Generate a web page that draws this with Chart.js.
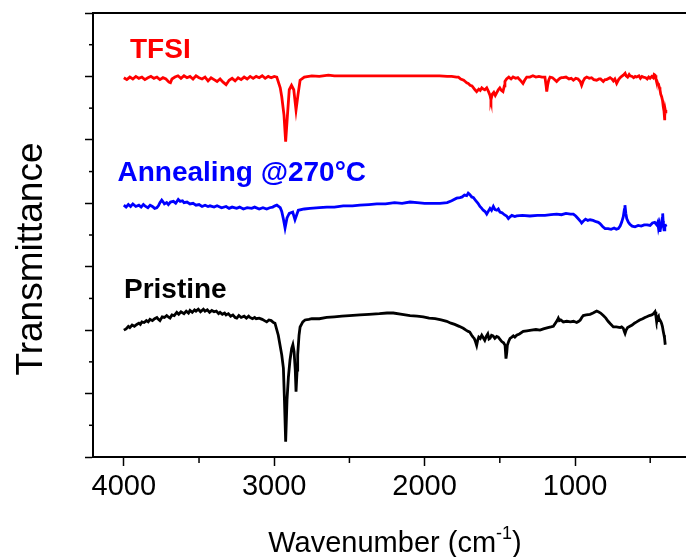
<!DOCTYPE html>
<html>
<head>
<meta charset="utf-8">
<script src="https://cdn.jsdelivr.net/npm/chart.js@4/dist/chart.umd.min.js"></script>
<style>
  html, body { margin: 0; padding: 0; background: #fff; overflow: hidden; }
  #wrap { width: 686px; height: 557px; }
</style>
</head>
<body>
<div id="wrap"><canvas id="ftirChart" width="686" height="557"></canvas></div>
<script>
// wavenumber (cm-1) and offset transmittance
var tfsiWn = [4000, 3980, 3960, 3940, 3920, 3900, 3880, 3860, 3840, 3820, 3800, 3780, 3760, 3740, 3720, 3700, 3690, 3680, 3660, 3640, 3620, 3600, 3580, 3560, 3540, 3520, 3500, 3480, 3460, 3440, 3420, 3400, 3380, 3360, 3340, 3320, 3300, 3280, 3260, 3240, 3220, 3200, 3180, 3160, 3140, 3120, 3100, 3080, 3060, 3040, 3020, 3000, 2983,
  2960, 2950, 2935, 2924, 2912, 2900, 2885, 2870, 2855, 2842, 2828, 2800, 2750, 2700, 2640, 2600, 2500, 2400, 2300, 2200, 2100, 2000, 1900, 1850, 1820, 1788,
  1775, 1760, 1740, 1730, 1720, 1710, 1698, 1685, 1675, 1665, 1654, 1640, 1630, 1620, 1610, 1600, 1587, 1575, 1565, 1559, 1550, 1540, 1530, 1521, 1510, 1500, 1490, 1479, 1470, 1466, 1455, 1440, 1425, 1412, 1395, 1380, 1360, 1346, 1335, 1321, 1300, 1280, 1260, 1240, 1220, 1200, 1192, 1188, 1182, 1175, 1166, 1150, 1140, 1122, 1110, 1100, 1090, 1080, 1060, 1040, 1025, 1011, 995, 980, 965, 956, 945, 935, 922, 905, 890, 875, 856, 840, 830, 812, 800, 790, 767, 755, 745, 735, 723, 710, 700, 690, 679, 667, 660, 650, 640, 634, 620, 610, 600, 590, 575, 565, 555, 546, 530, 520, 510, 501, 490, 480, 474, 468, 462, 457, 450, 445, 440, 435, 430, 424, 418, 413, 408, 405, 402, 400, 397, 395];
var tfsiT = [59.8, 59.5, 59.9, 59.6, 60.0, 59.7, 59.9, 59.5, 59.8, 60.0, 59.7, 59.9, 59.5, 59.8, 59.6, 59.1, 59.0, 59.6, 59.9, 60.1, 59.7, 60.1, 59.8, 60.0, 59.6, 60.1, 59.8, 59.6, 59.9, 59.3, 59.8, 59.5, 59.2, 59.6, 59.1, 58.7, 59.4, 59.7, 59.3, 59.8, 59.5, 59.9, 59.6, 60.0, 59.7, 60.0, 59.8, 60.1, 59.7, 60.0, 59.8, 60.0, 59.9,
  58.2, 56.8, 53.9, 49.7, 53.9, 57.9, 58.6, 57.9, 54.7, 57.1, 59.4, 59.9, 60.1, 60.0, 60.2, 60.1, 60.1, 60.1, 60.1, 60.1, 60.1, 60.1, 60.1, 60.0, 60.0, 59.9,
  59.9, 59.6, 59.4, 59.2, 59.0, 58.9, 58.6, 58.5, 58.2, 57.9, 57.6, 58.0, 57.8, 58.2, 58.0, 57.9, 58.2, 57.6, 57.0, 56.3, 57.2, 57.5, 57.0, 57.4, 57.9, 58.2, 57.8, 57.6, 58.5, 59.2, 59.6, 59.9, 59.6, 59.9, 59.7, 59.8, 59.3, 58.9, 59.4, 59.9, 59.9, 60.1, 59.9, 60.0, 59.9, 59.9, 58.5, 57.6, 58.6, 59.4, 59.9, 59.8, 59.6, 59.2, 59.5, 59.7, 59.8, 59.8, 59.9, 59.6, 59.7, 59.4, 59.7, 59.6, 59.2, 58.6, 59.3, 59.7, 59.9, 59.7, 59.8, 59.5, 59.4, 59.6, 59.6, 59.2, 59.5, 59.5, 59.8, 59.6, 59.3, 59.6, 58.9, 59.5, 59.8, 60.0, 60.2, 60.5, 60.1, 59.9, 60.3, 60.1, 60.0, 59.8, 60.0, 59.9, 60.1, 59.7, 60.0, 59.9, 59.8, 59.6, 59.9, 59.7, 60.0, 59.8, 60.3, 60.2, 59.6, 59.4, 58.9, 58.8, 58.3, 57.9, 57.2, 56.8, 56.2, 55.2, 54.5, 53.1, 53.8, 54.7, 54.2, 54.4];

var annealWn = [4000, 3985, 3970, 3955, 3940, 3920, 3900, 3885, 3870, 3855, 3840, 3825, 3810, 3795, 3781, 3770, 3760, 3748, 3738, 3730, 3715, 3704, 3690, 3670, 3655, 3638, 3625, 3610, 3600, 3580, 3560, 3540, 3520, 3500, 3480, 3460, 3440, 3427, 3400, 3380, 3350, 3320, 3300, 3280, 3250, 3230, 3205, 3180, 3150, 3130, 3100, 3075, 3050, 3030, 3010, 2995, 2983,
  2960, 2950, 2938, 2928, 2915, 2900, 2877, 2862, 2840, 2800, 2762, 2700, 2650, 2600, 2541, 2480, 2430, 2370, 2318, 2260, 2200, 2150, 2097, 2050, 2000, 1950, 1898, 1850, 1820, 1787, 1765, 1750, 1735, 1720, 1710, 1700, 1687, 1675, 1660, 1645, 1632, 1620, 1610, 1598, 1587, 1575, 1565, 1555, 1543, 1532, 1520, 1510, 1499, 1485, 1470, 1455, 1443, 1430, 1420, 1400, 1388,
  1350, 1300, 1250, 1200, 1160, 1122, 1090, 1060, 1030, 1011, 995, 980, 965, 956, 940, 930, 915, 900, 880, 860, 845, 834, 815, 800, 780, 760, 740, 725, 712, 700, 690, 679, 672, 668, 662, 656, 645, 635, 620, 601, 580, 560, 540, 520, 501, 485, 470, 457, 450, 445, 440, 435, 430, 425, 420, 417, 414, 412, 408, 403, 398, 390];
var annealT = [39.7, 39.4, 39.8, 39.5, 39.9, 39.5, 39.7, 39.4, 39.8, 39.5, 39.3, 39.7, 39.5, 39.2, 39.3, 39.6, 40.1, 40.5, 40.2, 39.9, 40.1, 39.8, 40.2, 40.3, 40.0, 40.6, 40.3, 40.4, 40.1, 40.2, 39.9, 40.0, 39.7, 39.8, 39.5, 39.7, 39.5, 39.6, 39.4, 39.6, 39.3, 39.5, 39.2, 39.4, 39.2, 39.4, 39.1, 39.3, 39.2, 39.4, 39.1, 39.3, 39.1, 39.3, 39.4, 39.6, 39.7,
  39.3, 38.7, 37.4, 36.1, 37.7, 38.4, 38.6, 37.4, 38.9, 39.1, 39.2, 39.3, 39.4, 39.4, 39.6, 39.6, 39.7, 39.8, 39.9, 39.9, 40.1, 40.0, 40.2, 40.1, 40.0, 40.0, 40.0, 40.1, 40.4, 40.8, 40.9, 41.0, 41.3, 41.2, 41.6, 41.4, 41.0, 40.9, 40.4, 40.0, 39.5, 39.2, 38.9, 38.7, 38.3, 38.8, 39.2, 38.9, 39.5, 39.0, 38.9, 39.1, 38.6, 38.5, 38.2, 38.0, 37.6, 37.9, 38.1, 37.9, 38.0,
  38.1, 38.0, 38.1, 38.1, 38.2, 38.3, 38.2, 38.4, 38.3, 38.3, 38.0, 37.6, 37.2, 36.9, 37.3, 37.5, 37.3, 37.4, 37.3, 37.1, 37.0, 36.8, 36.3, 36.0, 36.0, 35.9, 36.1, 35.9, 36.0, 36.4, 37.0, 37.9, 39.0, 39.7, 38.4, 37.6, 37.0, 36.7, 36.4, 36.3, 36.5, 36.4, 36.6, 36.6, 36.5, 36.9, 37.0, 36.6, 37.0, 36.1, 36.6, 35.5, 36.2, 36.7, 37.6, 38.4, 37.2, 36.4, 35.8, 36.3, 36.5, 36.6];

var pristineWn = [4000, 3985, 3970, 3960, 3945, 3930, 3914, 3900, 3890, 3880, 3865, 3850, 3838, 3826, 3810, 3795, 3780, 3770, 3760, 3745, 3730, 3715, 3700, 3693, 3680, 3665, 3648, 3635, 3620, 3600, 3585, 3570, 3560, 3545, 3530, 3520, 3505, 3490, 3471, 3460, 3445, 3430, 3415, 3400, 3385, 3370, 3360, 3345, 3330, 3320, 3305, 3290, 3275, 3260, 3249, 3235, 3220, 3200, 3185, 3170, 3161, 3145, 3130, 3120, 3100, 3080, 3065, 3050, 3035, 3020, 3005, 2995,
  2973, 2950, 2939, 2932, 2924, 2915, 2906, 2895, 2884, 2876, 2868, 2860, 2855, 2848, 2844, 2835, 2828, 2810, 2795, 2770, 2750, 2700, 2651, 2600, 2550, 2500, 2430, 2370, 2300, 2250, 2208, 2150, 2097, 2050, 2009, 1970, 1930, 1890, 1853, 1825, 1800, 1770, 1743, 1725, 1710, 1700,
  1687, 1678, 1670, 1662, 1654, 1647, 1640, 1630, 1620, 1610, 1600, 1590, 1580, 1572, 1565, 1555, 1545, 1533, 1521, 1510, 1500, 1487, 1475, 1465, 1459, 1454, 1450, 1440, 1432, 1420, 1410, 1400, 1388, 1370, 1344, 1320, 1290, 1260, 1233, 1210, 1180, 1160, 1144, 1133, 1125, 1117, 1111, 1104, 1095, 1078, 1055, 1030, 1010, 989, 975, 965, 955, 945, 925, 900, 880, 865, 856, 845, 830, 812,
  795, 780, 765, 745, 725, 700, 690, 679, 672, 667, 660, 650, 635, 620, 605, 590, 570, 550, 535, 523, 505, 490, 478, 468, 462, 457, 451, 445, 440, 435, 430, 425, 419, 413, 408, 405, 400];
var pristineT = [20.0, 20.2, 20.6, 20.4, 20.8, 20.6, 20.9, 21.1, 20.9, 21.3, 21.2, 21.5, 21.3, 21.7, 21.5, 21.8, 22.0, 21.7, 21.5, 22.1, 22.0, 22.3, 22.0, 21.9, 22.4, 22.3, 22.8, 22.5, 22.9, 22.6, 23.0, 22.7, 23.1, 22.8, 23.2, 23.0, 23.3, 22.9, 23.3, 23.0, 23.2, 22.8, 23.1, 22.9, 23.0, 22.6, 22.8, 22.5, 22.7, 22.4, 22.6, 22.2, 22.4, 22.0, 21.9, 22.3, 22.0, 22.2, 21.9, 22.2, 22.0, 21.8, 22.0, 21.8, 21.9, 21.7, 21.5, 21.3, 21.6, 21.5, 21.2, 21.1,
  19.2, 16.1, 14.0, 9.0, 2.4, 9.0, 12.5, 15.3, 17.1, 17.7, 16.6, 13.7, 10.3, 13.7, 16.1, 19.2, 20.5, 21.3, 21.6, 21.7, 21.8, 21.8, 22.0, 22.1, 22.2, 22.3, 22.4, 22.5, 22.6, 22.7, 22.7, 22.5, 22.3, 22.2, 22.1, 21.9, 21.8, 21.6, 21.4, 21.1, 20.9, 20.6, 20.3, 20.0, 19.8, 19.7,
  19.2, 18.9, 18.7, 18.2, 17.6, 18.4, 18.9, 18.7, 19.2, 18.8, 18.4, 19.0, 19.4, 18.6, 18.7, 19.2, 19.1, 18.7, 19.0, 18.9, 18.6, 18.2, 18.0, 17.6, 15.5, 16.4, 17.6, 18.3, 18.7, 18.9, 19.1, 18.9, 19.2, 19.4, 19.8, 19.9, 20.0, 20.1, 20.0, 20.2, 20.4, 20.5, 20.6, 21.0, 21.3, 21.6, 21.9, 21.5, 21.6, 21.3, 21.4, 21.3, 21.4, 21.2, 21.4, 21.6, 22.0, 22.3, 22.4, 22.5, 22.7, 22.9, 23.0, 22.9, 22.7, 22.3,
  21.9, 21.4, 21.0, 20.5, 20.5, 20.4, 20.5, 20.3, 19.8, 19.5, 20.0, 20.4, 20.6, 20.8, 21.1, 21.3, 21.6, 21.8, 22.0, 22.1, 22.3, 22.4, 22.6, 22.9, 22.2, 21.3, 22.0, 22.2, 21.5, 21.6, 21.4, 21.1, 20.6, 19.8, 19.2, 18.8, 17.7];

var seriesNames = ['TFSI', 'Annealing @270°C', 'Pristine'];
var seriesColors = ['#ff0000', '#0000ff', '#000000'];

var xMajor = [4000, 3000, 2000, 1000];
var xMinor = [3500, 2500, 1500, 500];
var yMajor = [0, 10, 20, 30, 40, 50, 60, 70];
var yMinor = [5, 15, 25, 35, 45, 55, 65];

// where each series name sits (wavenumber, transmittance of the text baseline)
var nameSpots = [[3959, 62.9], [4042, 43.5], [3999, 25.1]];

function toPoints(wn, t) {
    return wn.map(function (w, i) { return { x: w, y: t[i] }; });
}

var allSeries = [[tfsiWn, tfsiT], [annealWn, annealT], [pristineWn, pristineT]];

var datasets = allSeries.map(function (s, i) {
    return {
        label: seriesNames[i],
        data: toPoints(s[0], s[1]),
        borderColor: seriesColors[i],
        borderWidth: 2.8,
        pointRadius: 0,
        tension: 0,
        fill: false
    };
});

var frame = {
    id: 'frame',
    afterDraw: function (chart) {
        var ctx = chart.ctx;
        var area = chart.chartArea;
        var xs = chart.scales.x, ys = chart.scales.y;
        ctx.save();
        ctx.strokeStyle = '#000';
        // top border
        ctx.lineWidth = 2;
        ctx.beginPath();
        ctx.moveTo(area.left, area.top);
        ctx.lineTo(area.right, area.top);
        ctx.stroke();
        // minor ticks
        ctx.lineWidth = 1.5;
        xMinor.forEach(function (v) {
            var px = xs.getPixelForValue(v);
            ctx.beginPath();
            ctx.moveTo(px, area.bottom);
            ctx.lineTo(px, area.bottom + 6);
            ctx.stroke();
        });
        yMinor.forEach(function (v) {
            var py = ys.getPixelForValue(v);
            ctx.beginPath();
            ctx.moveTo(area.left - 4, py);
            ctx.lineTo(area.left, py);
            ctx.stroke();
        });

        // series names
        ctx.font = 'bold 28px Arial, "Liberation Sans", sans-serif';
        ctx.textBaseline = 'alphabetic';
        ctx.textAlign = 'left';
        nameSpots.forEach(function (p, i) {
            ctx.fillStyle = seriesColors[i];
            ctx.fillText(seriesNames[i], xs.getPixelForValue(p[0]), ys.getPixelForValue(p[1]));
        });

        // axis titles
        ctx.fillStyle = '#000';
        ctx.font = '29px Arial, "Liberation Sans", sans-serif';
        var main = 'Wavenumber (cm';
        var sup = '-1';
        var tail = ')';
        var wMain = ctx.measureText(main).width;
        var wTail = ctx.measureText(tail).width;
        ctx.font = '18px Arial, "Liberation Sans", sans-serif';
        var wSup = ctx.measureText(sup).width;
        var total = wMain + wSup + wTail;
        var x0 = 395 - total / 2;
        var base = 552;
        ctx.font = '29px Arial, "Liberation Sans", sans-serif';
        ctx.fillText(main, x0, base);
        ctx.font = '18px Arial, "Liberation Sans", sans-serif';
        ctx.fillText(sup, x0 + wMain, base - 13);
        ctx.font = '29px Arial, "Liberation Sans", sans-serif';
        ctx.fillText(tail, x0 + wMain + wSup, base);

        ctx.translate(42, 259);
        ctx.rotate(-Math.PI / 2);
        ctx.font = '37px Arial, "Liberation Sans", sans-serif';
        ctx.textAlign = 'center';
        ctx.fillText('Transmittance', 0, 0);
        ctx.restore();
    }
};

var ctx = document.getElementById('ftirChart').getContext('2d');
var ftirChart = new Chart(ctx, {
    type: 'line',
    data: { datasets: datasets },
    options: {
        responsive: false,
        animation: false,
        events: [],
        layout: { padding: { top: 13, left: 0, right: 0, bottom: 0 } },
        plugins: {
            legend: { display: false },
            tooltip: { enabled: false }
        },
        scales: {
            x: {
                type: 'linear',
                reverse: true,
                min: 262,
                max: 4205,
                afterBuildTicks: function (scale) {
                    scale.ticks = xMajor.map(function (v) { return { value: v }; });
                },
                afterFit: function (scale) { scale.height = 100; },
                ticks: {
                    color: '#000',
                    padding: 4,
                    maxRotation: 0,
                    font: { family: 'Arial, "Liberation Sans", sans-serif', size: 29 },
                    callback: function (v) { return String(v); }
                },
                grid: { drawOnChartArea: false, drawTicks: true, tickLength: 9, tickColor: '#000', tickWidth: 1.5 },
                border: { display: true, color: '#000', width: 2 }
            },
            y: {
                type: 'linear',
                min: 0,
                max: 70,
                afterBuildTicks: function (scale) {
                    scale.ticks = yMajor.map(function (v) { return { value: v }; });
                },
                afterFit: function (scale) { scale.width = 93; },
                ticks: { display: false },
                grid: { drawOnChartArea: false, drawTicks: true, tickLength: 8, tickColor: '#000', tickWidth: 1.5 },
                border: { display: true, color: '#000', width: 2 }
            }
        }
    },
    plugins: [frame]
});
</script>
</body>
</html>
